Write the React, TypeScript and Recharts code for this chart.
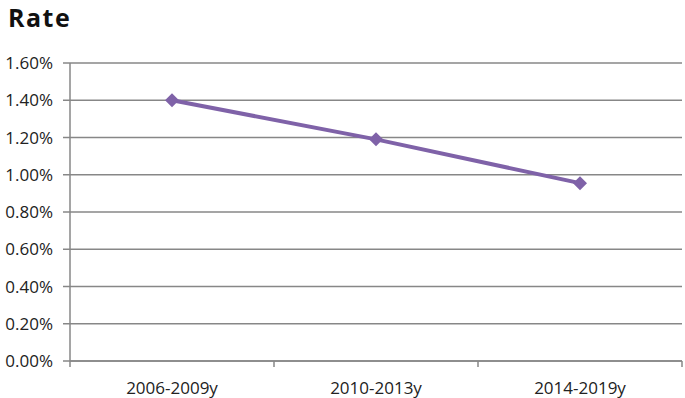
import { LineChart, Line, XAxis, YAxis, CartesianGrid } from 'recharts'

const categories = ['2006-2009y', '2010-2013y', '2014-2019y']
const rateValues = [1.4, 1.19, 0.955]
const yTicks = [0, 0.2, 0.4, 0.6, 0.8, 1.0, 1.2, 1.4, 1.6]

const data = categories.map((name, i) => ({ name, rate: rateValues[i] }))

const FONT = '"Open Sans", "Noto Sans", sans-serif'
const AXIS = '#878787'
const PURPLE = '#7F62A8'

const W = 685
const H = 398
const LEFT = 70
const RIGHT = 3
const BAND = (W - LEFT - RIGHT) / categories.length

function XTick(props: any) {
  const { x, y, payload, index } = props
  return (
    <g>
      {index === 0 && <line x1={x - BAND / 2} x2={x - BAND / 2} y1={y} y2={y + 6} stroke={AXIS} strokeWidth={1.5} />}
      <line x1={x + BAND / 2} x2={x + BAND / 2} y1={y} y2={y + 6} stroke={AXIS} strokeWidth={1.5} />
      <text x={x} y={y + 33} textAnchor="middle" fill="#222" fontSize={17} fontFamily={FONT}>
        {payload.value}
      </text>
    </g>
  )
}

function Diamond(props: any) {
  const { cx, cy } = props
  if (cx == null || cy == null) return null
  const r = 7
  return <polygon points={`${cx},${cy - r} ${cx + r},${cy} ${cx},${cy + r} ${cx - r},${cy}`} fill={PURPLE} />
}

export default function App() {
  return (
    <div style={{ position: 'absolute', left: 0, top: 0, width: W, height: H, background: '#fff' }}>
      <LineChart width={W} height={H} data={data} margin={{ top: 63, right: RIGHT, left: 0, bottom: 0 }}>
        <CartesianGrid vertical={false} stroke={AXIS} strokeWidth={1.5} strokeDasharray="" />
        <XAxis
          dataKey="name"
          scale="band"
          height={37}
          axisLine={{ stroke: AXIS, strokeWidth: 1.5 }}
          tickLine={false}
          tickSize={0}
          tickMargin={0}
          interval={0}
          tick={<XTick />}
        />
        <YAxis
          width={LEFT}
          domain={[0, 1.6]}
          ticks={yTicks}
          interval={0}
          tickFormatter={(v: number) => v.toFixed(2) + '%'}
          axisLine={{ stroke: AXIS, strokeWidth: 1.5 }}
          tickLine={{ stroke: AXIS, strokeWidth: 1.5 }}
          tickSize={7}
          tickMargin={10}
          tick={{ fill: '#222', fontSize: 17, fontFamily: FONT }}
        />
        <Line
          type="linear"
          dataKey="rate"
          stroke={PURPLE}
          strokeWidth={4}
          dot={<Diamond />}
          activeDot={false}
          isAnimationActive={false}
        />
      </LineChart>
      <div
        style={{
          position: 'absolute',
          left: 8,
          top: 0,
          lineHeight: 'normal',
          fontSize: 25,
          fontWeight: 'bold',
          letterSpacing: 1.5,
          fontFamily: FONT,
          color: '#111',
          whiteSpace: 'nowrap',
        }}
      >
        Rate
      </div>
    </div>
  )
}
